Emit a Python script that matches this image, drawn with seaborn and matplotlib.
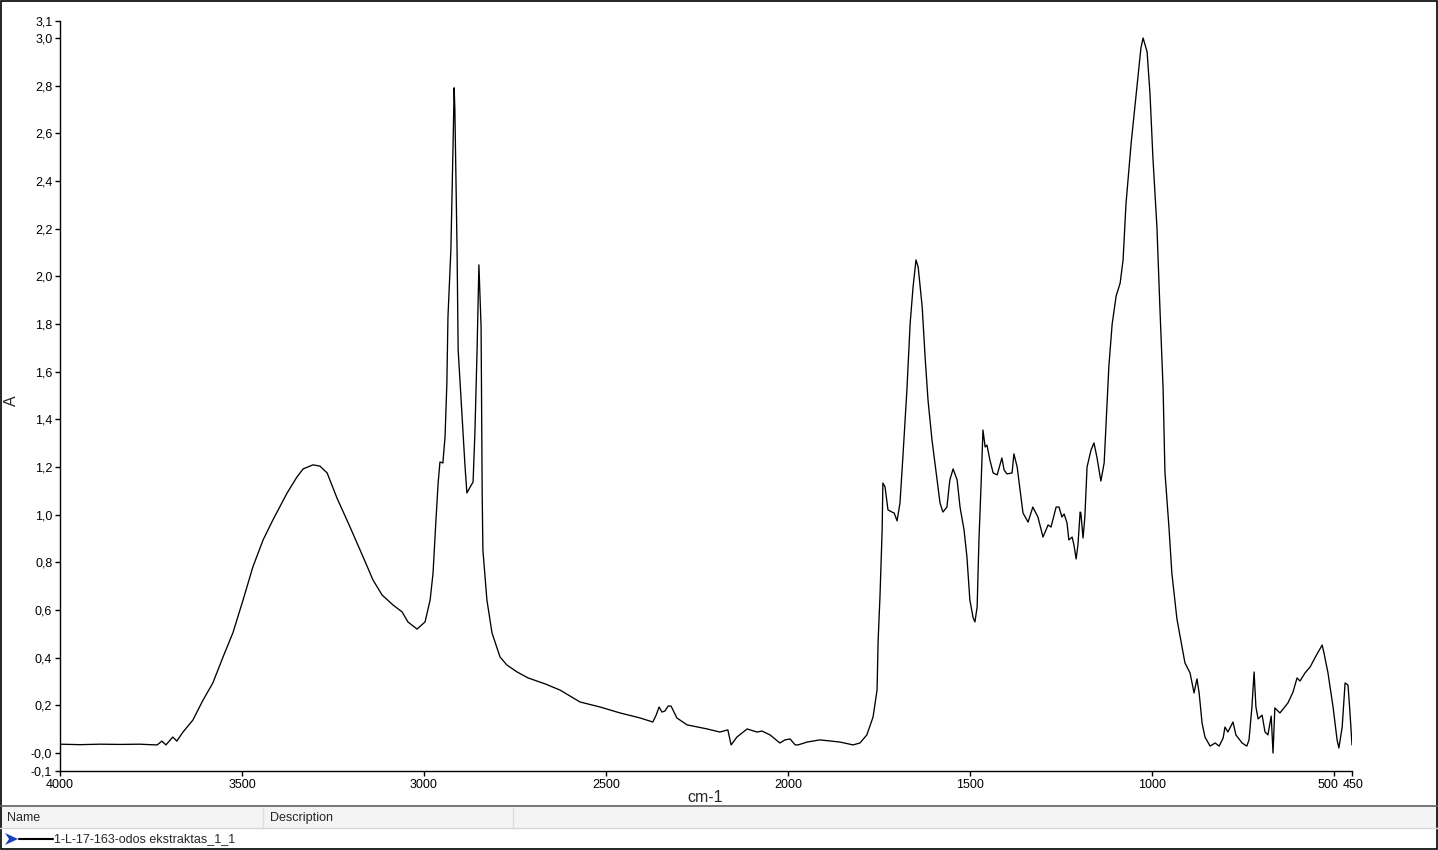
import matplotlib
matplotlib.use("Agg")
import matplotlib.pyplot as plt
import matplotlib.transforms as mtransforms
import numpy as np
import pandas as pd
import seaborn as sns
from matplotlib.lines import Line2D
from matplotlib.patches import Rectangle, Polygon


# --------------------
# spectrum values
# --------------------
wavenumber = [
    4000, 3945, 3890, 3835, 3780, 3753, 3733, 3720, 3709, 3690, 3679, 3662, 3635, 3607,
    3580, 3552, 3525, 3497, 3470, 3442, 3415, 3376, 3349, 3332, 3305, 3286, 3266, 3239,
    3203, 3167, 3140, 3115, 3085, 3060, 3044, 3019, 2997, 2983, 2975, 2967, 2961, 2956,
    2948, 2942, 2937, 2934, 2926, 2923, 2920, 2917, 2915, 2912, 2909, 2906, 2895, 2887,
    2882, 2873, 2865, 2860, 2854, 2851, 2849, 2843, 2840, 2838, 2827, 2813, 2791, 2772,
    2744, 2714, 2667, 2626, 2571, 2516, 2461, 2406, 2371, 2362, 2354, 2346, 2338, 2329,
    2321, 2305, 2277, 2222, 2187, 2165, 2156, 2140, 2112, 2085, 2071, 2049, 2022, 2008,
    1994, 1980, 1972, 1947, 1912, 1857, 1821, 1802, 1783, 1766, 1755, 1752, 1747, 1741,
    1739, 1733, 1725, 1714, 1708, 1700, 1692, 1684, 1673, 1664, 1656, 1648, 1642, 1631,
    1623, 1615, 1604, 1590, 1582, 1574, 1563, 1555, 1546, 1535, 1527, 1516, 1508, 1500,
    1491, 1486, 1480, 1475, 1469, 1464, 1458, 1453, 1445, 1436, 1425, 1412, 1406, 1398,
    1384, 1379, 1370, 1362, 1354, 1340, 1327, 1313, 1299, 1285, 1277, 1263, 1255, 1247,
    1241, 1233, 1228, 1219, 1214, 1208, 1203, 1197, 1195, 1189, 1184, 1178, 1167, 1159,
    1151, 1140, 1131, 1126, 1118, 1109, 1098, 1087, 1079, 1071, 1057, 1044, 1030, 1024,
    1013, 1005, 997, 986, 978, 969, 964, 953, 945, 931, 917, 909, 895, 884,
    876, 870, 862, 854, 840, 826, 815, 804, 799, 791, 777, 769, 752, 739,
    733, 725, 719, 714, 708, 697, 689, 681, 672, 667, 662, 648, 626, 612,
    601, 593, 579, 565, 552, 532, 527, 516, 502, 491, 486, 477, 469, 461,
    456, 450,
]
absorbance = [
    0.037, 0.035, 0.037, 0.036, 0.037, 0.035, 0.034, 0.050, 0.034, 0.067, 0.050, 0.088, 0.138, 0.222,
    0.294, 0.403, 0.504, 0.642, 0.781, 0.894, 0.978, 1.091, 1.158, 1.192, 1.209, 1.204, 1.175, 1.070,
    0.948, 0.822, 0.726, 0.663, 0.621, 0.592, 0.550, 0.520, 0.550, 0.642, 0.755, 0.978, 1.133, 1.221,
    1.217, 1.326, 1.553, 1.830, 2.111, 2.321, 2.551, 2.791, 2.698, 2.405, 2.111, 1.691, 1.410, 1.200,
    1.091, 1.116, 1.137, 1.343, 1.691, 1.901, 2.048, 1.788, 1.091, 0.852, 0.642, 0.504, 0.403, 0.369,
    0.340, 0.315, 0.290, 0.264, 0.214, 0.193, 0.168, 0.147, 0.130, 0.159, 0.193, 0.172, 0.176, 0.197,
    0.197, 0.147, 0.118, 0.101, 0.088, 0.097, 0.034, 0.067, 0.101, 0.088, 0.092, 0.076, 0.042, 0.055,
    0.059, 0.034, 0.034, 0.046, 0.055, 0.046, 0.034, 0.042, 0.076, 0.151, 0.264, 0.474, 0.655, 0.936,
    1.133, 1.116, 1.020, 1.011, 1.007, 0.974, 1.049, 1.242, 1.523, 1.804, 1.956, 2.069, 2.039, 1.872,
    1.662, 1.481, 1.313, 1.146, 1.049, 1.011, 1.032, 1.146, 1.192, 1.146, 1.032, 0.936, 0.822, 0.642,
    0.567, 0.550, 0.613, 0.894, 1.133, 1.355, 1.284, 1.292, 1.230, 1.175, 1.167, 1.238, 1.188, 1.171,
    1.175, 1.255, 1.200, 1.104, 1.007, 0.969, 1.032, 0.990, 0.906, 0.957, 0.948, 1.032, 1.032, 0.990,
    1.003, 0.965, 0.894, 0.906, 0.873, 0.814, 0.873, 1.011, 1.007, 0.902, 0.990, 1.200, 1.272, 1.301,
    1.242, 1.141, 1.217, 1.376, 1.624, 1.800, 1.918, 1.972, 2.069, 2.304, 2.556, 2.749, 2.958, 3.000,
    2.942, 2.765, 2.497, 2.207, 1.876, 1.527, 1.179, 0.948, 0.755, 0.562, 0.445, 0.378, 0.336, 0.252,
    0.311, 0.252, 0.126, 0.067, 0.029, 0.042, 0.029, 0.063, 0.109, 0.088, 0.130, 0.076, 0.042, 0.029,
    0.055, 0.193, 0.340, 0.193, 0.143, 0.159, 0.088, 0.076, 0.155, 0.000, 0.189, 0.168, 0.210, 0.256,
    0.315, 0.302, 0.336, 0.361, 0.399, 0.453, 0.420, 0.336, 0.193, 0.055, 0.021, 0.109, 0.294, 0.285,
    0.180, 0.034,
]

x_ticks = [4000, 3500, 3000, 2500, 2000, 1500, 1000, 500, 450]
y_ticks = [-0.0755, 0.0, 0.2, 0.4, 0.6, 0.8, 1.0, 1.2, 1.4, 1.6, 1.8, 2.0, 2.2, 2.4, 2.6, 2.8, 3.0, 3.0726]
y_tick_labels = ["-0,1", "-0,0", "0,2", "0,4", "0,6", "0,8", "1,0", "1,2", "1,4", "1,6", "1,8",
                 "2,0", "2,2", "2,4", "2,6", "2,8", "3,0", "3,1"]
series_name = "1-L-17-163-odos ekstraktas_1_1"

df = pd.DataFrame({"cm-1": wavenumber, "A": absorbance})

sns.set_style("ticks")
plt.rcParams["font.family"] = ["Liberation Sans", "DejaVu Sans"]

W, H = 1438, 850
fig = plt.figure(figsize=(W / 100, H / 100), dpi=100)
ax = fig.add_axes([60 / W, 1 - 771 / H, (1352 - 60) / W, (771 - 20.7) / H])

sns.lineplot(data=df, x="cm-1", y="A", sort=False, estimator=None,
             color="black", linewidth=0.95, ax=ax)

ax.set_xlim(4000, 450)
ax.set_ylim(y_ticks[0], y_ticks[-1])
ax.set_xticks(x_ticks)
ax.set_xticklabels([str(t) for t in x_ticks])
ax.set_yticks(y_ticks)
ax.set_yticklabels(y_tick_labels)
ax.tick_params(axis="both", labelsize=9, length=3.5, width=1, color="black",
               labelcolor="black", pad=2)
# the 500 label sits a little to the left so it does not hit 450
lab500 = ax.get_xticklabels()[x_ticks.index(500)]
lab500.set_transform(lab500.get_transform() +
                     mtransforms.ScaledTranslation(-6 / 100, 0, fig.dpi_scale_trans))
lab450 = ax.get_xticklabels()[x_ticks.index(450)]
lab450.set_transform(lab450.get_transform() +
                     mtransforms.ScaledTranslation(1 / 100, 0, fig.dpi_scale_trans))
for s in ["top", "right"]:
    ax.spines[s].set_visible(False)
for s in ["left", "bottom"]:
    ax.spines[s].set_color("black")
    ax.spines[s].set_linewidth(1)
ax.set_xlabel("")
ax.set_ylabel("")
fig.text(705 / W, 1 - 797 / H, "cm-1", ha="center", va="center", fontsize=11.5)
fig.text(11 / W, 1 - 401 / H, "A", ha="center", va="center", rotation=90, fontsize=11.5)

# --------------------
# legend table under the plot
# --------------------
def fy(y):
    return 1 - y / H

fig.add_artist(Rectangle((0, fy(828)), 1, (828 - 806) / H, transform=fig.transFigure,
                         facecolor="#f4f4f4", edgecolor="none"))
fig.add_artist(Line2D([0, 1], [fy(806), fy(806)], color="#606060", lw=1.2))
fig.add_artist(Line2D([0, 1], [fy(828), fy(828)], color="#d8d8d8", lw=1))
for xs in [263, 513]:
    fig.add_artist(Line2D([xs / W, xs / W], [fy(808), fy(827)], color="#dcdcdc", lw=1))
fig.text(7 / W, fy(818), "Name", ha="left", va="center", fontsize=9)
fig.text(270 / W, fy(818), "Description", ha="left", va="center", fontsize=9)
fig.add_artist(Polygon([[5 / W, fy(833)], [18 / W, fy(839)], [5 / W, fy(845)], [9 / W, fy(839)]],
                       closed=True, transform=fig.transFigure, facecolor="#1a3fc0", edgecolor="none"))
fig.add_artist(Line2D([19 / W, 53 / W], [fy(839), fy(839)], color="black", lw=1.5))
fig.text(54 / W, fy(839), series_name, ha="left", va="center", fontsize=9)

# outer frame
fig.add_artist(Rectangle((0.0004, 0.0006), 0.9992, 0.9988, transform=fig.transFigure,
                         facecolor="none", edgecolor="black", lw=1.2))

fig.savefig("out.png", dpi=100)
